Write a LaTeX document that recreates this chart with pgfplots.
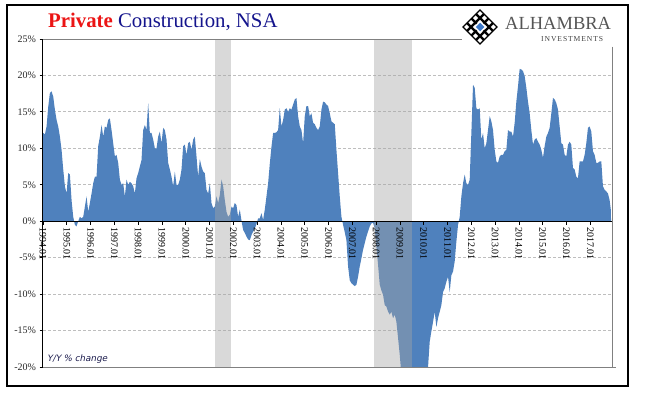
\documentclass[border=0pt]{standalone}
\usepackage{pgfplots}
\pgfplotsset{compat=1.18}
\usepackage{pgfplotstable}
\usepackage{fontspec}
\setmainfont{Liberation Serif}
\newfontfamily\notefont[FakeSlant=0.2]{DejaVu Sans}
\newfontfamily\spacedfont[LetterSpace=12]{Liberation Serif}
\definecolor{areablue}{RGB}{79,129,189}
\definecolor{titlered}{RGB}{235,20,20}
\definecolor{titleblue}{RGB}{20,20,140}
\definecolor{bordergray}{RGB}{128,128,128}
\definecolor{gridgray}{RGB}{190,190,190}
\definecolor{recgray}{RGB}{165,165,165}
\definecolor{logoblue}{RGB}{60,120,200}
\definecolor{logogray}{RGB}{85,85,85}
\definecolor{notecol}{RGB}{25,25,75}

\pgfplotstableread{
t v
1994.00 0
1994.01 12.1
1994.08 11.9
1994.15 13.0
1994.22 15.7
1994.29 17.6
1994.36 17.8
1994.43 17.1
1994.50 15.3
1994.57 13.9
1994.64 13.0
1994.71 11.6
1994.78 9.8
1994.85 7.1
1994.92 4.8
1994.99 3.8
1995.06 6.6
1995.13 6.4
1995.20 2.9
1995.27 0.6
1995.34 -0.5
1995.41 -0.7
1995.48 0.0
1995.55 0.6
1995.62 0.4
1995.69 0.6
1995.76 2.0
1995.83 3.4
1995.90 1.3
1995.97 2.5
1996.04 3.8
1996.11 5.2
1996.18 6.1
1996.25 6.1
1996.32 10.3
1996.39 11.6
1996.46 13.2
1996.53 11.6
1996.60 13.0
1996.67 12.8
1996.74 13.9
1996.81 14.1
1996.88 12.5
1996.95 10.7
1997.02 8.9
1997.09 9.1
1997.16 8.0
1997.23 5.7
1997.30 5.0
1997.37 5.2
1997.44 3.4
1997.51 5.7
1997.58 5.0
1997.65 5.4
1997.72 5.2
1997.79 4.8
1997.86 3.8
1997.93 5.9
1998.00 6.6
1998.07 7.5
1998.14 8.4
1998.21 12.5
1998.28 13.2
1998.35 12.5
1998.42 16.2
1998.49 12.1
1998.56 12.1
1998.63 11.2
1998.70 10.0
1998.77 10.0
1998.84 11.6
1998.91 12.3
1998.98 10.7
1999.05 12.8
1999.12 12.5
1999.19 11.2
1999.26 8.0
1999.33 7.1
1999.40 6.1
1999.47 4.8
1999.54 6.8
1999.61 5.0
1999.68 5.0
1999.75 5.7
1999.82 7.1
1999.89 10.3
1999.96 10.5
2000.03 9.1
2000.10 10.7
2000.17 10.9
2000.24 9.8
2000.31 11.2
2000.38 11.6
2000.45 8.9
2000.52 6.1
2000.59 8.5
2000.66 7.5
2000.73 6.8
2000.80 6.6
2000.87 4.3
2000.94 3.8
2001.01 5.2
2001.08 2.5
2001.15 1.8
2001.22 2.0
2001.29 3.4
2001.36 2.5
2001.43 3.6
2001.50 5.7
2001.57 4.8
2001.64 2.9
2001.71 1.3
2001.78 0.6
2001.85 0.9
2001.92 2.0
2001.99 1.8
2002.06 2.5
2002.13 2.2
2002.20 0.6
2002.27 1.6
2002.34 0.1
2002.41 -1.2
2002.48 -1.6
2002.55 -2.1
2002.62 -2.5
2002.69 -2.6
2002.76 -1.9
2002.83 -1.4
2002.90 -1.0
2002.97 -0.4
2003.04 0.4
2003.11 0.4
2003.18 1.1
2003.25 0.2
2003.32 1.6
2003.39 3.4
2003.46 5.2
2003.53 7.9
2003.60 10.2
2003.67 12.1
2003.74 12.1
2003.81 12.2
2003.88 12.5
2003.95 15.5
2004.02 13.0
2004.09 13.9
2004.16 15.3
2004.23 15.5
2004.30 15.0
2004.37 15.5
2004.44 15.3
2004.51 16.0
2004.58 16.7
2004.65 16.9
2004.72 14.4
2004.79 13.0
2004.86 12.5
2004.93 10.7
2005.00 14.4
2005.07 15.8
2005.14 15.8
2005.21 14.4
2005.28 14.8
2005.35 13.5
2005.42 13.3
2005.49 12.8
2005.56 12.5
2005.63 13.0
2005.70 15.3
2005.77 16.4
2005.84 16.3
2005.91 16.0
2005.98 15.8
2006.05 14.8
2006.12 13.7
2006.19 13.5
2006.26 13.3
2006.33 9.8
2006.40 6.6
2006.47 3.4
2006.54 0.6
2006.61 -0.5
2006.68 -1.5
2006.75 -2.6
2006.82 -6.2
2006.89 -8.1
2006.96 -8.5
2007.03 -8.7
2007.10 -8.9
2007.17 -8.7
2007.24 -7.6
2007.31 -6.2
2007.38 -5.1
2007.45 -3.9
2007.52 -3.0
2007.59 -2.1
2007.66 -1.4
2007.73 -0.7
2007.80 -0.3
2007.87 -0.2
2007.94 -1.0
2008.01 -3.5
2008.08 -6.0
2008.15 -8.7
2008.22 -9.5
2008.29 -10.1
2008.36 -11.5
2008.43 -11.7
2008.50 -12.4
2008.57 -12.8
2008.64 -12.4
2008.71 -13.3
2008.78 -12.8
2008.85 -13.8
2008.92 -16.0
2008.99 -18.3
2009.06 -21.0
2009.13 -23.0
2009.20 -25.0
2009.27 -26.0
2009.34 -27.0
2009.41 -28.0
2009.48 -28.0
2009.55 -28.0
2009.62 -27.0
2009.69 -27.0
2009.76 -26.0
2009.83 -25.0
2009.90 -24.0
2009.97 -23.0
2010.04 -22.0
2010.11 -21.0
2010.18 -20.0
2010.25 -16.5
2010.32 -15.1
2010.39 -13.8
2010.46 -12.4
2010.53 -14.5
2010.60 -13.3
2010.67 -12.4
2010.74 -11.5
2010.81 -9.7
2010.88 -9.2
2010.95 -8.3
2011.02 -7.6
2011.09 -9.7
2011.16 -7.4
2011.23 -6.9
2011.30 -5.5
2011.37 -2.8
2011.44 -0.5
2011.51 0.6
2011.58 3.4
2011.65 5.2
2011.72 6.4
2011.79 5.2
2011.86 5.0
2011.93 5.7
2012.00 12.1
2012.07 18.7
2012.14 18.3
2012.21 15.5
2012.28 15.3
2012.35 15.5
2012.42 11.2
2012.49 12.1
2012.56 10.0
2012.63 10.7
2012.70 12.5
2012.77 14.4
2012.84 13.7
2012.91 12.5
2012.98 9.8
2013.05 8.2
2013.12 8.0
2013.19 8.9
2013.26 9.1
2013.33 9.1
2013.40 9.6
2013.47 9.8
2013.54 12.5
2013.61 12.3
2013.68 12.3
2013.75 11.6
2013.82 13.5
2013.89 16.4
2013.96 18.5
2014.03 20.9
2014.10 20.8
2014.17 20.6
2014.24 19.9
2014.31 18.3
2014.38 16.4
2014.45 14.8
2014.52 12.5
2014.59 10.5
2014.66 11.2
2014.73 11.4
2014.80 10.9
2014.87 10.5
2014.94 9.8
2015.01 8.7
2015.08 10.3
2015.15 11.6
2015.22 12.1
2015.29 12.8
2015.36 14.8
2015.43 16.9
2015.50 16.7
2015.57 16.2
2015.64 15.3
2015.71 13.0
2015.78 10.7
2015.85 10.5
2015.92 9.1
2015.99 8.9
2016.06 10.5
2016.13 10.9
2016.20 10.5
2016.27 7.3
2016.34 7.1
2016.41 6.1
2016.48 5.9
2016.55 8.2
2016.62 8.2
2016.69 8.2
2016.76 9.1
2016.83 10.7
2016.90 12.8
2016.97 13.0
2017.04 12.3
2017.11 9.6
2017.18 9.1
2017.25 8.0
2017.32 8.0
2017.39 8.2
2017.46 8.2
2017.53 4.8
2017.60 4.3
2017.67 4.1
2017.74 3.8
2017.81 2.9
2017.86 1.6
2017.87 0
}\constr

\begin{document}
\begin{tikzpicture}[x=1pt,y=1pt]
\useasboundingbox (0,0) rectangle (647,392);
\begin{axis}[
  at={(43pt,24.9pt)}, anchor=south west,
  width=569pt, height=328.2pt, scale only axis,
  xmin=1994, xmax=2017.91, ymin=-20, ymax=25,
  axis on top,
  axis x line=middle, axis y line=left,
  axis line style={-, black, line width=1pt},
  hide obscured x ticks=false, hide obscured y ticks=false,
  xtick={1994,...,2017},
  xticklabels={1994.01,1995.01,1996.01,1997.01,1998.01,1999.01,2000.01,2001.01,2002.01,2003.01,2004.01,2005.01,2006.01,2007.01,2008.01,2009.01,2010.01,2011.01,2012.01,2013.01,2014.01,2015.01,2016.01,2017.01},
  x tick label style={rotate=-90, anchor=west, font=\fontsize{10}{12}\selectfont, inner sep=2.5pt, text=black},
  ytick={-20,-15,-10,-5,0,5,10,15,20,25},
  yticklabels={-20\%,-15\%,-10\%,-5\%,0\%,5\%,10\%,15\%,20\%,25\%},
  y tick label style={font=\fontsize{10}{12}\selectfont, text=black!85},
  tick align=outside, major tick length=3.5pt,
  tick style={black, line width=0.8pt},
]
\pgfplotsinvokeforeach{-15,-10,-5,5,10,15,20}{
  \draw[gridgray, dash pattern=on 3pt off 2pt, line width=0.8pt] (axis cs:1994,#1) -- (axis cs:2017.91,#1);
}
\addplot[fill=areablue, draw=none] table[x=t, y=v] {\constr} \closedcycle;
\fill[recgray, opacity=0.42] (axis cs:2001.21,-20) rectangle (axis cs:2001.90,25);
\fill[recgray, opacity=0.42] (axis cs:2007.91,-20) rectangle (axis cs:2009.50,25);
\end{axis}

% plot-area borders
\draw[bordergray, line width=1pt] (43,352.9) -- (462,352.9);
\draw[bordergray, line width=1pt] (612,345.3) -- (612,24.9);
\draw[bordergray, line width=1pt] (43,24.9) -- (616,24.9);

% title
\node[anchor=base west, inner sep=0] at (48,364.7)
  {\fontsize{20.8}{24}\selectfont\textcolor{titlered}{\textbf{Private}} \textcolor{titleblue}{Construction, NSA}};

% note
\node[anchor=base west, inner sep=0, text=notecol] at (47,31)
  {\notefont\fontsize{8.8}{10}\selectfont Y/Y \% change};

% logo
\begin{scope}[shift={(480,365)}, rotate=45]
  \fill[black] (-12.7,-12.7) rectangle (12.7,12.7);
  \foreach \u in {-9.5,-3.2,3.2,9.5}{
    \foreach \v in {-9.5,-3.2,3.2,9.5}{
      \fill[white] (\u-1.8,\v-1.8) rectangle (\u+1.8,\v+1.8);
    }
  }
  \fill[white] (-4.6,-4.6) rectangle (4.6,4.6);
  \fill[logoblue] (-3,-3) rectangle (3,3);
\end{scope}
\node[anchor=base west, inner sep=0, text=logogray] at (505,362.7)
  {\fontsize{18.5}{20}\selectfont ALHAMBRA};
\node[anchor=base west, inner sep=0, text=black!75] at (541,350.3)
  {\spacedfont\fontsize{7.6}{9}\selectfont INVESTMENTS};

% outer frame
\draw[black, line width=1.1pt] (7,6) rectangle (628,387);
\end{tikzpicture}
\end{document}
